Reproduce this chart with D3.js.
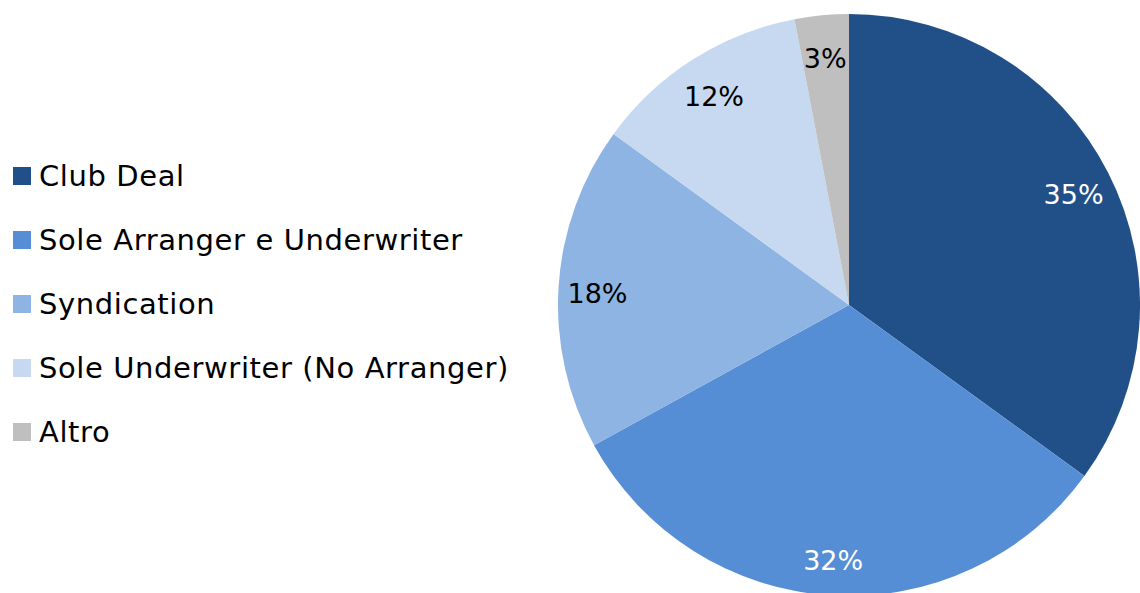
<!DOCTYPE html>
<html>
<head>
<meta charset="utf-8">
<script src="https://cdn.jsdelivr.net/npm/d3@7"></script>
<style>
  body { margin: 0; background: #fff; }
  text { font-family: "DejaVu Sans", sans-serif; }
</style>
</head>
<body>
<svg width="1140" height="593"></svg>
<script>
var categories = ["Club Deal", "Sole Arranger e Underwriter", "Syndication", "Sole Underwriter (No Arranger)", "Altro"];
var values = [35, 32, 18, 12, 3];
var colors = ["#215089", "#558ED5", "#8EB4E3", "#C6D9F1", "#BFBFBF"];
var labelColors = ["#fff", "#fff", "#000", "#000", "#000"];

var svg = d3.select("svg");
var cx = 849, cy = 305, r = 291;

var data = categories.map(function (c, i) {
    return {name: c, value: values[i], color: colors[i], labelColor: labelColors[i]};
});

var pie = d3.pie().sort(null).value(function (d) { return d.value; });
var arc = d3.arc().innerRadius(0).outerRadius(r);
var labelArc = d3.arc().innerRadius(252).outerRadius(252);

var g = svg.append("g").attr("transform", "translate(" + cx + "," + cy + ")");
var arcs = pie(data);

g.selectAll("path").data(arcs).enter().append("path")
    .attr("d", arc)
    .attr("fill", function (d) { return d.data.color; });

g.selectAll("text.lbl").data(arcs).enter().append("text")
    .attr("class", "lbl")
    .attr("transform", function (d) { return "translate(" + labelArc.centroid(d) + ")"; })
    .attr("text-anchor", "middle")
    .attr("dy", "0.5em")
    .attr("font-size", 27)
    .attr("fill", function (d) { return d.data.labelColor; })
    .text(function (d) { return d.data.value + "%"; });

// legend
var y = d3.scalePoint().domain(categories).range([176, 432]);
var legend = svg.append("g").selectAll("g").data(data).enter().append("g")
    .attr("transform", function (d) { return "translate(13," + y(d.name) + ")"; });
legend.append("rect")
    .attr("x", 0).attr("y", -9).attr("width", 18).attr("height", 18)
    .attr("fill", function (d) { return d.color; });
legend.append("text")
    .attr("x", 26).attr("dy", "0.36em")
    .attr("font-size", 29)
    .attr("letter-spacing", 0.6)
    .attr("fill", "#000")
    .text(function (d) { return d.name; });
</script>
</body>
</html>
